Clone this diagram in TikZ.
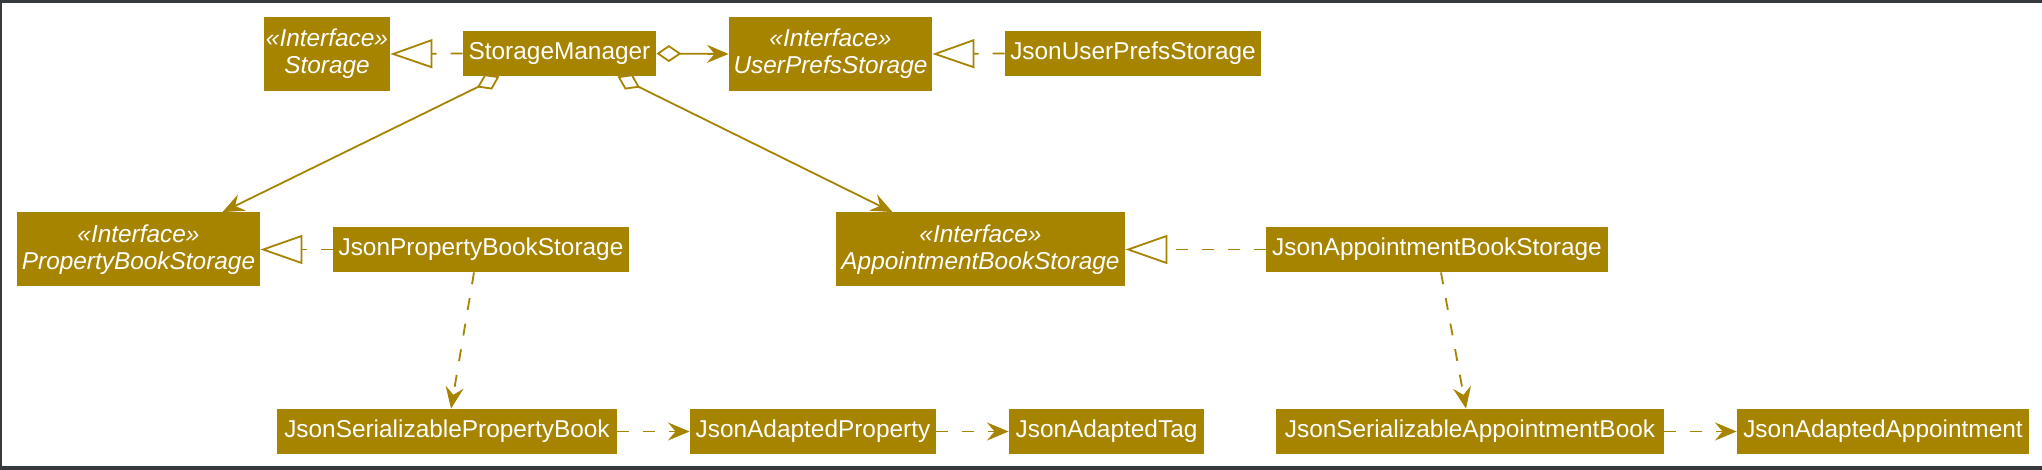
\documentclass[tikz,border=0pt]{standalone}
\usepackage{fontspec}
\setmainfont{Liberation Sans}
\usepackage{xcolor}
\usetikzlibrary{arrows.meta}
\definecolor{umlgold}{RGB}{166,132,0}
\definecolor{frame}{RGB}{54,57,61}

\tikzset{
cls/.style={fill=umlgold, text=white, inner sep=0pt, align=center,
  font=\fontsize{12.2pt}{13.5pt}\selectfont, minimum height=22.5pt},
iface/.style={cls, font=\fontsize{12.2pt}{13.5pt}\selectfont\itshape, minimum height=37pt},
link/.style={draw=umlgold, line width=0.9pt},
realize/.style={link, dash pattern=on 6pt off 7pt, -{Triangle[open, length=21pt, width=14.5pt]}},
dep/.style={link, dash pattern=on 6pt off 7pt, -{Stealth[length=10.8pt, width=9pt, inset=3.8pt]}},
aggr/.style={link, {Diamond[open, length=12.5pt, width=8.5pt]}-{Stealth[length=10.8pt, width=9pt, inset=3.8pt]}}
}

\begin{document}
\begin{tikzpicture}[x=0.5pt, y=-0.5pt]
%frame
\fill[frame] (0,0) rectangle (2042,470);
\fill[white] (2,3) rectangle (2042,466);
\useasboundingbox (0,0) rectangle (2042,470);

%top row
\node[iface, minimum width=63pt] (storage) at (327,54) {«Interface»\\Storage};
\node[cls, minimum width=96.5pt] (manager) at (559.5,53.5) {StorageManager};
\node[iface, minimum width=101.5pt] (prefs) at (830.5,54) {«Interface»\\UserPrefsStorage};
\node[cls, minimum width=128pt] (jsonprefs) at (1133,53.5) {JsonUserPrefsStorage};

%middle row
\node[iface, minimum width=121.5pt] (propbook) at (138.5,249.5) {«Interface»\\PropertyBookStorage};
\node[cls, minimum width=148pt] (jsonpropbook) at (481,249.5) {JsonPropertyBookStorage};
\node[iface, minimum width=144.5pt] (apptbook) at (980.5,249.5) {«Interface»\\AppointmentBookStorage};
\node[cls, minimum width=171pt] (jsonapptbook) at (1437,249.5) {JsonAppointmentBookStorage};

%bottom row
\node[cls, minimum width=170pt] (serprop) at (447,431.5) {JsonSerializablePropertyBook};
\node[cls, minimum width=123pt] (adprop) at (813,431.5) {JsonAdaptedProperty};
\node[cls, minimum width=97.5pt] (adtag) at (1106.5,431.5) {JsonAdaptedTag};
\node[cls, minimum width=194pt] (serappt) at (1470,431.5) {JsonSerializableAppointmentBook};
\node[cls, minimum width=146pt] (adappt) at (1883,431.5) {JsonAdaptedAppointment};

%storage manager
\draw[realize] (manager.west) -- (storage.east);
\draw[aggr] (manager.east) -- (prefs.west);
\draw[aggr] ([xshift=-30pt]manager.south) -- ([xshift=42pt]propbook.north);
\draw[aggr] ([xshift=29pt]manager.south) -- ([xshift=-44pt]apptbook.north);

%implementations
\draw[realize] (jsonprefs.west) -- (prefs.east);
\draw[realize] (jsonpropbook.west) -- (propbook.east);
\draw[realize] (jsonapptbook.west) -- (apptbook.east);

%json classes
\draw[dep] ([xshift=-3.5pt]jsonpropbook.south) -- ([xshift=2pt]serprop.north);
\draw[dep] ([xshift=2pt]jsonapptbook.south) -- ([xshift=-2pt]serappt.north);
\draw[dep] (serprop.east) -- (adprop.west);
\draw[dep] (adprop.east) -- (adtag.west);
\draw[dep] (serappt.east) -- (adappt.west);
\end{tikzpicture}
\end{document}
